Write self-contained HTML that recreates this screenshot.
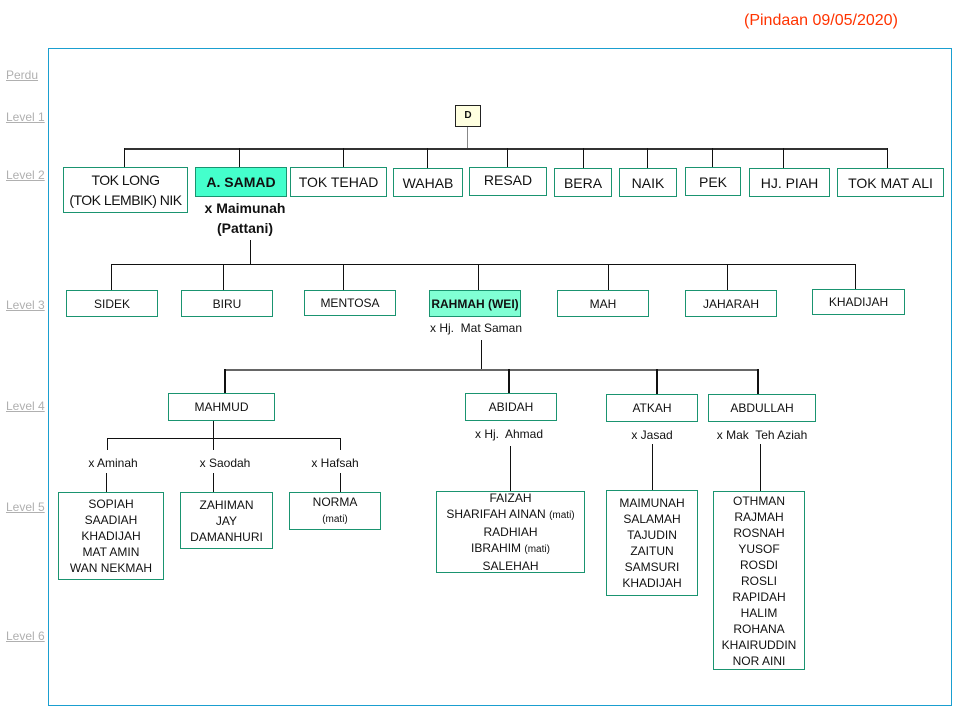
<!DOCTYPE html>
<html><head><meta charset="utf-8"><style>
body{margin:0;width:960px;height:720px;position:relative;background:#fff;font-family:"Liberation Sans",Arial,sans-serif;color:#111;overflow:hidden}
.a{position:absolute}
.b{position:absolute;border:1px solid #1a9470;box-sizing:border-box;background:#fff;display:flex;align-items:center;justify-content:center;text-align:center;font-size:12px;line-height:16px}
.b2{font-size:14px;line-height:20px}
.t{position:absolute;font-size:12px;white-space:nowrap;transform:translateX(-50%)}
.lv{position:absolute;left:6px;font-size:12px;color:#b0b0b0;text-decoration:underline}
.h{position:absolute;height:1px;background:#111}
.v{position:absolute;width:1px;background:#111}
.v2{position:absolute;width:2px;background:#111}
.m{font-size:10px}
</style></head><body>
<div class="a" style="left:744px;top:12px;font-size:16px;color:#ff3300">(Pindaan 09/05/2020)</div>
<div class="a" style="left:48px;top:48px;width:904px;height:658px;border:1px solid #1a9fd0;box-sizing:border-box"></div>
<div class="lv" style="top:68px">Perdu</div>
<div class="lv" style="top:110px">Level 1</div>
<div class="lv" style="top:168px">Level 2</div>
<div class="lv" style="top:298px">Level 3</div>
<div class="lv" style="top:399px">Level 4</div>
<div class="lv" style="top:500px">Level 5</div>
<div class="lv" style="top:629px">Level 6</div>

<div class="b" style="left:455px;top:105px;width:26px;height:22px;background:#ffffe0;border-color:#222;font-size:10px;font-weight:bold">D</div>
<div class="v" style="left:467px;top:127px;height:21px;background:#888"></div>
<div class="h" style="left:124px;top:148px;width:764px;height:2px;background:#333"></div>
<div class="v" style="left:124px;top:148px;height:19px"></div>
<div class="v" style="left:239px;top:148px;height:19px"></div>
<div class="v" style="left:343px;top:148px;height:19px"></div>
<div class="v" style="left:427px;top:148px;height:20px"></div>
<div class="v" style="left:507px;top:148px;height:19px"></div>
<div class="v" style="left:583px;top:148px;height:20px"></div>
<div class="v" style="left:647px;top:148px;height:20px"></div>
<div class="v" style="left:712px;top:148px;height:19px"></div>
<div class="v" style="left:783px;top:148px;height:20px"></div>
<div class="v" style="left:887px;top:148px;height:20px"></div>

<div class="b b2" style="left:63px;top:167px;width:125px;height:46px;letter-spacing:-0.5px"><div>TOK LONG<br>(TOK LEMBIK) NIK</div></div>
<div class="b b2" style="left:195px;top:167px;width:92px;height:30px;background:#44ffcc;font-weight:bold">A. SAMAD</div>
<div class="b b2" style="left:290px;top:167px;width:97px;height:30px">TOK TEHAD</div>
<div class="b b2" style="left:393px;top:168px;width:70px;height:29px">WAHAB</div>
<div class="b b2" style="left:469px;top:167px;width:78px;height:29px;align-items:flex-start;padding-top:2px">RESAD</div>
<div class="b b2" style="left:554px;top:168px;width:58px;height:29px">BERA</div>
<div class="b b2" style="left:619px;top:168px;width:58px;height:29px">NAIK</div>
<div class="b b2" style="left:685px;top:167px;width:56px;height:29px">PEK</div>
<div class="b b2" style="left:749px;top:168px;width:81px;height:29px">HJ. PIAH</div>
<div class="b b2" style="left:837px;top:168px;width:107px;height:29px">TOK MAT ALI</div>
<div class="t" style="left:245px;top:198px;font-size:14px;font-weight:bold;text-align:center;line-height:20px">x Maimunah<br>(Pattani)</div>

<div class="v" style="left:250px;top:240px;height:24px"></div>
<div class="h" style="left:111px;top:264px;width:745px"></div>
<div class="v" style="left:111px;top:264px;height:26px"></div>
<div class="v" style="left:223px;top:264px;height:26px"></div>
<div class="v" style="left:343px;top:264px;height:26px"></div>
<div class="v" style="left:478px;top:264px;height:26px"></div>
<div class="v" style="left:608px;top:264px;height:26px"></div>
<div class="v" style="left:727px;top:264px;height:26px"></div>
<div class="v" style="left:855px;top:264px;height:25px"></div>

<div class="b" style="left:66px;top:290px;width:92px;height:27px">SIDEK</div>
<div class="b" style="left:181px;top:290px;width:92px;height:27px">BIRU</div>
<div class="b" style="left:304px;top:290px;width:92px;height:26px">MENTOSA</div>
<div class="b" style="left:429px;top:290px;width:92px;height:27px;background:#80ffd4;font-weight:bold">RAHMAH (WEI)</div>
<div class="b" style="left:557px;top:290px;width:92px;height:27px">MAH</div>
<div class="b" style="left:685px;top:290px;width:92px;height:27px">JAHARAH</div>
<div class="b" style="left:812px;top:289px;width:93px;height:26px">KHADIJAH</div>
<div class="t" style="left:476px;top:321px">x Hj.&nbsp; Mat Saman</div>

<div class="v" style="left:481px;top:340px;height:29px"></div>
<div class="h" style="left:225px;top:369px;width:534px;height:2px;background:#666"></div>
<div class="v2" style="left:224px;top:369px;height:24px"></div>
<div class="v2" style="left:508px;top:369px;height:24px"></div>
<div class="v2" style="left:656px;top:369px;height:25px"></div>
<div class="v2" style="left:757px;top:369px;height:25px"></div>

<div class="b" style="left:168px;top:393px;width:107px;height:28px">MAHMUD</div>
<div class="b" style="left:465px;top:393px;width:92px;height:28px">ABIDAH</div>
<div class="b" style="left:606px;top:394px;width:92px;height:28px">ATKAH</div>
<div class="b" style="left:708px;top:394px;width:108px;height:28px">ABDULLAH</div>
<div class="t" style="left:509px;top:427px">x Hj.&nbsp; Ahmad</div>
<div class="t" style="left:652px;top:428px">x Jasad</div>
<div class="t" style="left:762px;top:428px">x Mak&nbsp; Teh Aziah</div>

<div class="v" style="left:213px;top:421px;height:17px"></div>
<div class="h" style="left:107px;top:438px;width:234px"></div>
<div class="v" style="left:107px;top:438px;height:12px"></div>
<div class="v" style="left:213px;top:438px;height:12px"></div>
<div class="v" style="left:340px;top:438px;height:12px"></div>
<div class="t" style="left:113px;top:456px">x Aminah</div>
<div class="t" style="left:225px;top:456px">x Saodah</div>
<div class="t" style="left:335px;top:456px">x Hafsah</div>
<div class="v" style="left:106px;top:473px;height:19px"></div>
<div class="v" style="left:213px;top:473px;height:19px"></div>
<div class="v" style="left:340px;top:473px;height:19px"></div>

<div class="b" style="left:58px;top:492px;width:106px;height:88px"><div>SOPIAH<br>SAADIAH<br>KHADIJAH<br>MAT AMIN<br>WAN NEKMAH</div></div>
<div class="b" style="left:180px;top:492px;width:93px;height:57px"><div>ZAHIMAN<br>JAY<br>DAMANHURI</div></div>
<div class="b" style="left:289px;top:492px;width:92px;height:38px"><div>NORMA<br><span class="m">(mati)</span></div></div>

<div class="v" style="left:510px;top:446px;height:45px"></div>
<div class="b" style="left:436px;top:491px;width:149px;height:82px"><div>FAIZAH<br>SHARIFAH AINAN <span class="m">(mati)</span><br>RADHIAH<br>IBRAHIM <span class="m">(mati)</span><br>SALEHAH</div></div>
<div class="v" style="left:652px;top:444px;height:46px"></div>
<div class="b" style="left:606px;top:490px;width:92px;height:106px"><div>MAIMUNAH<br>SALAMAH<br>TAJUDIN<br>ZAITUN<br>SAMSURI<br>KHADIJAH</div></div>
<div class="v" style="left:760px;top:444px;height:47px"></div>
<div class="b" style="left:713px;top:491px;width:92px;height:179px"><div>OTHMAN<br>RAJMAH<br>ROSNAH<br>YUSOF<br>ROSDI<br>ROSLI<br>RAPIDAH<br>HALIM<br>ROHANA<br>KHAIRUDDIN<br>NOR AINI</div></div>
</body></html>
